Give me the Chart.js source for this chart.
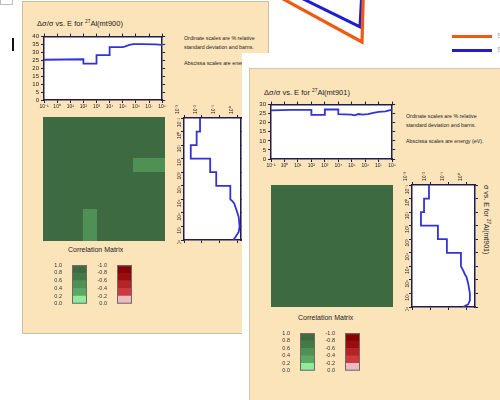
<!DOCTYPE html>
<html><head><meta charset="utf-8">
<script src="https://cdn.jsdelivr.net/npm/chart.js@4.4.1/dist/chart.umd.min.js"></script>
<style>
html,body{margin:0;padding:0;background:#fff;overflow:hidden;width:500px;height:400px;position:relative;font-family:"Liberation Sans",Arial,sans-serif;color:#222;}
.a{position:absolute;}
.t{position:absolute;white-space:nowrap;line-height:1;color:#222;}
.layer{position:absolute;left:0;top:0;width:500px;height:400px;}
canvas{position:absolute;display:block;}
sup{font-size:65%;vertical-align:3px;line-height:0;}
</style></head>
<body>
<canvas id="bg" width="500" height="400" style="left:0;top:0"></canvas>
<div class="a" style="left:0;top:0;width:11px;height:4px;border:1px solid #bbb;border-top:none;background:#fff"></div>
<div class="a" style="left:12px;top:38px;width:2px;height:13px;background:#111"></div>
<div class="a" style="left:452px;top:35px;width:40px;height:3px;background:#ee5b12"></div>
<div class="a" style="left:452px;top:49px;width:40px;height:3px;background:#1e1ecf"></div>
<div class="t" style="left:497px;top:32px;font-size:8px;color:#999">Series A</div>
<div class="t" style="left:497px;top:46px;font-size:8px;color:#999">Series B</div>

<!-- panel mt900 -->
<div class="layer" style="z-index:1">
  <div class="a" style="left:22px;top:1px;width:245px;height:331px;background:#fce4ba;border:1px solid #cdbfa5"></div>
  <div class="t" style="left:37px;top:20px;font-size:7.5px">Δσ/σ vs. E for <sup>27</sup>Al(mt900)</div>
  <div class="t" style="left:184px;top:36px;font-size:5.3px">Ordinate scales are % relative</div>
  <div class="t" style="left:184px;top:45px;font-size:5.3px">standard deviation and barns.</div>
  <div class="t" style="left:184px;top:61px;font-size:5.3px">Abscissa scales are energy (eV).</div>
  <div class="t" style="left:68px;top:246px;font-size:7px">Correlation Matrix</div>
  <canvas id="top900" width="145" height="81" style="left:22px;top:31px"></canvas>
  <canvas id="heat900" width="122" height="124" style="left:43px;top:117px"></canvas>
  <canvas id="xs900" width="72" height="140" style="left:173px;top:104px"></canvas>
  <canvas id="leg900g" width="35" height="49" style="left:52px;top:260px"></canvas>
  <canvas id="leg900r" width="35" height="49" style="left:97px;top:260px"></canvas>
</div>

<!-- panel mt901 -->
<div class="layer" style="z-index:2">
  <div class="a" style="left:242px;top:53px;width:258px;height:347px;background:#fff"></div>
  <div class="a" style="left:249px;top:68px;width:251px;height:332px;background:#fce4ba;border-left:1px solid #d3c6ad;border-top:1px solid #d3c6ad"></div>
  <div class="t" style="left:264px;top:89px;font-size:7.5px">Δσ/σ vs. E for <sup>27</sup>Al(mt901)</div>
  <div class="t" style="left:406px;top:114px;font-size:5.3px">Ordinate scales are % relative</div>
  <div class="t" style="left:406px;top:123px;font-size:5.3px">standard deviation and barns.</div>
  <div class="t" style="left:406px;top:139px;font-size:5.3px">Abscissa scales are energy (eV).</div>
  <div class="t" style="left:298px;top:314px;font-size:7px">Correlation Matrix</div>
  <div class="t" style="left:490px;top:185px;font-size:7px;transform:rotate(90deg);transform-origin:0 0">σ vs. E for <sup>27</sup>Al(mt901)</div>
  <canvas id="top901" width="148" height="72" style="left:249px;top:99px"></canvas>
  <canvas id="heat901" width="122" height="122" style="left:271px;top:185px"></canvas>
  <canvas id="xs901" width="78" height="140" style="left:401px;top:171px"></canvas>
  <canvas id="leg901g" width="35" height="48" style="left:280px;top:328px"></canvas>
  <canvas id="leg901r" width="35" height="48" style="left:325px;top:328px"></canvas>
</div>

<script>
// ---------------- DATA ----------------
const energyTickLabels = ['10⁻¹','10⁰','10¹','10²','10³','10⁴','10⁵','10⁶','10⁷','10⁸'];
const sigmaTickLabels  = ['10⁻³','10⁻²','10⁻¹','10⁰'];

// background line chart (two series, only partly visible behind the panels)
const bgOrangeX = [23.0, 36.2, 36.4];
const bgOrangeY = [107.5, 89.5, 107.5];
const bgBlueX   = [24.0, 36.0, 36.3];
const bgBlueY   = [108.0, 93.3, 107.5];

// relative standard deviation (%) vs log10 energy
const relErr900E = [-1, 2, 2, 3, 3, 4, 4, 5, 5.2, 5.5, 5.8, 6.5, 7.5, 8];
const relErr900V = [25.4, 25.7, 23.0, 23.0, 28.3, 28.3, 33.3, 33.3, 33.8, 34.8, 35.2, 35.3, 35.1, 34.8];
const relErr901E = [-1, 0.5, 2, 2, 3, 3, 4, 4, 5, 5.2, 5.5, 5.8, 6.2, 6.6, 7, 7.5, 8];
const relErr901V = [26.8, 27.1, 27.1, 24.3, 24.3, 27.3, 27.3, 24.7, 24.5, 24.1, 24.8, 24.5, 24.8, 25.5, 26.0, 26.3, 27.2];

// cross section (log10 barns) vs log10 energy
const xs900Sigma = [-2.10,-2.10,-2.29,-2.29,-2.62,-2.62,-1.53,-1.53,-1.19,-1.19,-0.40,-0.40,-0.31,-0.18,-0.05,0.07,0.12,0.07,-0.12,-0.23];
const xs900E     = [-1, 0, 0, 1, 1, 2, 2, 3, 3, 4, 4, 5, 5.1, 5.3, 5.8, 6.3, 7.0, 7.4, 7.8, 8];
const xs901Sigma = [-2.07,-2.07,-2.34,-2.34,-2.51,-2.51,-1.58,-1.58,-1.09,-1.09,-0.32,-0.32,-0.20,-0.10,-0.01,0.08,0.17,0.17,0.08,-0.21];
const xs901E     = [-1, 0, 0, 1, 1, 2, 2, 3, 3, 4, 4, 5, 5.3, 5.6, 5.8, 6.3, 7.0, 7.5, 7.8, 8];

// correlation matrices (group bounds in log10 eV)
const corr900Bounds = [-1, 2, 3, 5.7, 8];
const corr900 = [[0.9,0.9,0.9,0.9],[0.9,0.9,0.9,0.5],[0.9,0.9,0.9,0.9],[0.9,0.5,0.9,0.9]];
const corr901Bounds = [-1, 8];
const corr901 = [[0.9]];

// colour scale bands
const bandEdges  = [0, 0.2, 0.4, 0.6, 0.8, 1.0];
const greenBands = ['#92e89e', '#5aa862', '#4f9154', '#437848', '#3d6a40'];
const redBands   = ['#ecbcc4', '#cc3a40', '#b42328', '#9a0c0e', '#8a0000'];

// ---------------- CHARTS ----------------
Chart.defaults.font.family = 'Liberation Sans';
Chart.defaults.color = '#222';
const FRAME = '#1d1d4f';
const LINE = '#3333d6';

const pts = (X, Y) => X.map((x, i) => ({x: x, y: Y[i]}));
const baseOpts = () => ({responsive:false, animation:false, events:[], maintainAspectRatio:false,
  layout:{padding:0}, plugins:{legend:{display:false}, tooltip:{enabled:false}}});

const whiteArea = {id:'whiteArea', beforeDraw(chart){ const a = chart.chartArea, c = chart.ctx;
  c.save(); c.fillStyle = '#fff'; c.fillRect(a.left, a.top, a.right - a.left, a.bottom - a.top); c.restore(); }};

function mkAxis(o) {
  return {
    type:'linear', position:o.pos, min:o.min, max:o.max, reverse:!!o.reverse,
    ticks:{display:!!o.labels, stepSize:o.step, includeBounds:false, autoSkip:false,
      font:{size:o.fs || 5}, color:'#222', padding:(o.pad == null ? 1 : o.pad),
      minRotation:o.rot || 0, maxRotation:o.rot || 0, callback:o.labels || (v => String(v))},
    grid:{drawOnChartArea:false, drawTicks:true, tickLength:3, color:FRAME, lineWidth:1},
    border:{display:true, color:FRAME, width:1.5},
    afterFit:s => { if (s.isHorizontal()) s.height = o.size; else s.width = o.size; }
  };
}

new Chart(document.getElementById('bg'), {type:'scatter',
  data:{datasets:[
    {data:pts(bgOrangeX, bgOrangeY), showLine:true, borderColor:'#ee5b12', borderWidth:3.2, pointRadius:0},
    {data:pts(bgBlueX, bgBlueY), showLine:true, borderColor:'#1e1ecf', borderWidth:3, pointRadius:0}]},
  options:Object.assign(baseOpts(), {scales:{x:{type:'linear', display:false, min:0, max:50}, y:{type:'linear', display:false, min:0, max:100}}})
});

function topPlot(id, E, V, yMax) {
  new Chart(document.getElementById(id), {type:'scatter',
    data:{datasets:[{data:pts(E, V), showLine:true, borderColor:LINE, borderWidth:1.8, pointRadius:0}]},
    options:Object.assign(baseOpts(), {scales:{
      x: mkAxis({pos:'bottom', min:-1, max:8, step:1, labels:v => energyTickLabels[Math.round(v) + 1], size:12}),
      x2: mkAxis({pos:'top', min:-1, max:8, step:1, size:4}),
      y: mkAxis({pos:'left', min:0, max:yMax, step:5, labels:v => String(v), fs:6, size:22, pad:2}),
      y2: mkAxis({pos:'right', min:0, max:yMax, step:5, size:4})
    }}),
    plugins:[whiteArea]
  });
}

function bandColor(v, bands) { return bands[Math.min(bands.length - 1, Math.floor(Math.abs(v) / 0.2))]; }

function heatmap(id, bounds, M) {
  new Chart(document.getElementById(id), {type:'scatter', data:{datasets:[]},
    options:Object.assign(baseOpts(), {scales:{
      x:{type:'linear', display:false, min:bounds[0], max:bounds[bounds.length - 1]},
      y:{type:'linear', display:false, min:bounds[0], max:bounds[bounds.length - 1], reverse:true}}}),
    plugins:[{id:'cells', beforeDatasetsDraw(chart) {
      const c = chart.ctx, xs = chart.scales.x, ys = chart.scales.y;
      for (let i = 0; i < M.length; i++) for (let j = 0; j < M[i].length; j++) {
        const x0 = Math.floor(xs.getPixelForValue(bounds[j])), x1 = Math.ceil(xs.getPixelForValue(bounds[j + 1]));
        const y0 = Math.floor(ys.getPixelForValue(bounds[i])), y1 = Math.ceil(ys.getPixelForValue(bounds[i + 1]));
        c.fillStyle = M[i][j] >= 0 ? bandColor(M[i][j], greenBands) : bandColor(M[i][j], redBands);
        c.fillRect(x0, y0, x1 - x0, y1 - y0);
      }
    }}]
  });
}

function xsPlot(id, S, E, sMax) {
  new Chart(document.getElementById(id), {type:'scatter',
    data:{datasets:[{data:pts(S, E), showLine:true, borderColor:LINE, borderWidth:1.8, pointRadius:0}]},
    options:Object.assign(baseOpts(), {scales:{
      x: mkAxis({pos:'top', min:-3, max:sMax, step:1, labels:v => sigmaTickLabels[Math.round(v) + 3], rot:90, size:14}),
      x2: mkAxis({pos:'bottom', min:-3, max:sMax, step:1, size:4}),
      y: mkAxis({pos:'left', min:-1, max:8, reverse:true, step:1, labels:v => energyTickLabels[Math.round(v) + 1], rot:90, size:11}),
      y2: mkAxis({pos:'right', min:-1, max:8, reverse:true, step:1, size:4})
    }}),
    plugins:[whiteArea]
  });
}

const outline = {id:'outline', afterDraw(chart){ const a = chart.chartArea, c = chart.ctx;
  c.save(); c.strokeStyle = '#6d6a60'; c.lineWidth = 1; c.strokeRect(a.left + 0.5, a.top + 0.5, a.right - a.left - 1, a.bottom - a.top - 1); c.restore(); }};

function legendBar(id, bands, negative) {
  const ds = bands.map((col, i) => ({
    data:[negative ? [-bandEdges[i + 1], -bandEdges[i]] : [bandEdges[i], bandEdges[i + 1]]],
    backgroundColor:col, borderWidth:0, barPercentage:1, categoryPercentage:1}));
  new Chart(document.getElementById(id), {type:'bar', data:{labels:[''], datasets:ds},
    options:Object.assign(baseOpts(), {layout:{padding:{top:4, bottom:4}}, scales:{
      x:{stacked:true, display:false},
      y:{type:'linear', min:negative ? -1 : 0, max:negative ? 0 : 1, reverse:!!negative,
        ticks:{stepSize:0.2, autoSkip:false, font:{size:5.5}, color:'#333', padding:2, callback:v => (Math.abs(v) < 1e-9 ? '0.0' : v.toFixed(1))},
        grid:{display:false}, border:{display:false}, afterFit:s => { s.width = 20; }}
    }}),
    plugins:[outline]
  });
}

topPlot('top900', relErr900E, relErr900V, 40);
topPlot('top901', relErr901E, relErr901V, 30);
heatmap('heat900', corr900Bounds, corr900);
heatmap('heat901', corr901Bounds, corr901);
xsPlot('xs900', xs900Sigma, xs900E, 0.2);
xsPlot('xs901', xs901Sigma, xs901E, 0.45);
legendBar('leg900g', greenBands, false);
legendBar('leg900r', redBands, true);
legendBar('leg901g', greenBands, false);
legendBar('leg901r', redBands, true);
</script>
</body></html>
